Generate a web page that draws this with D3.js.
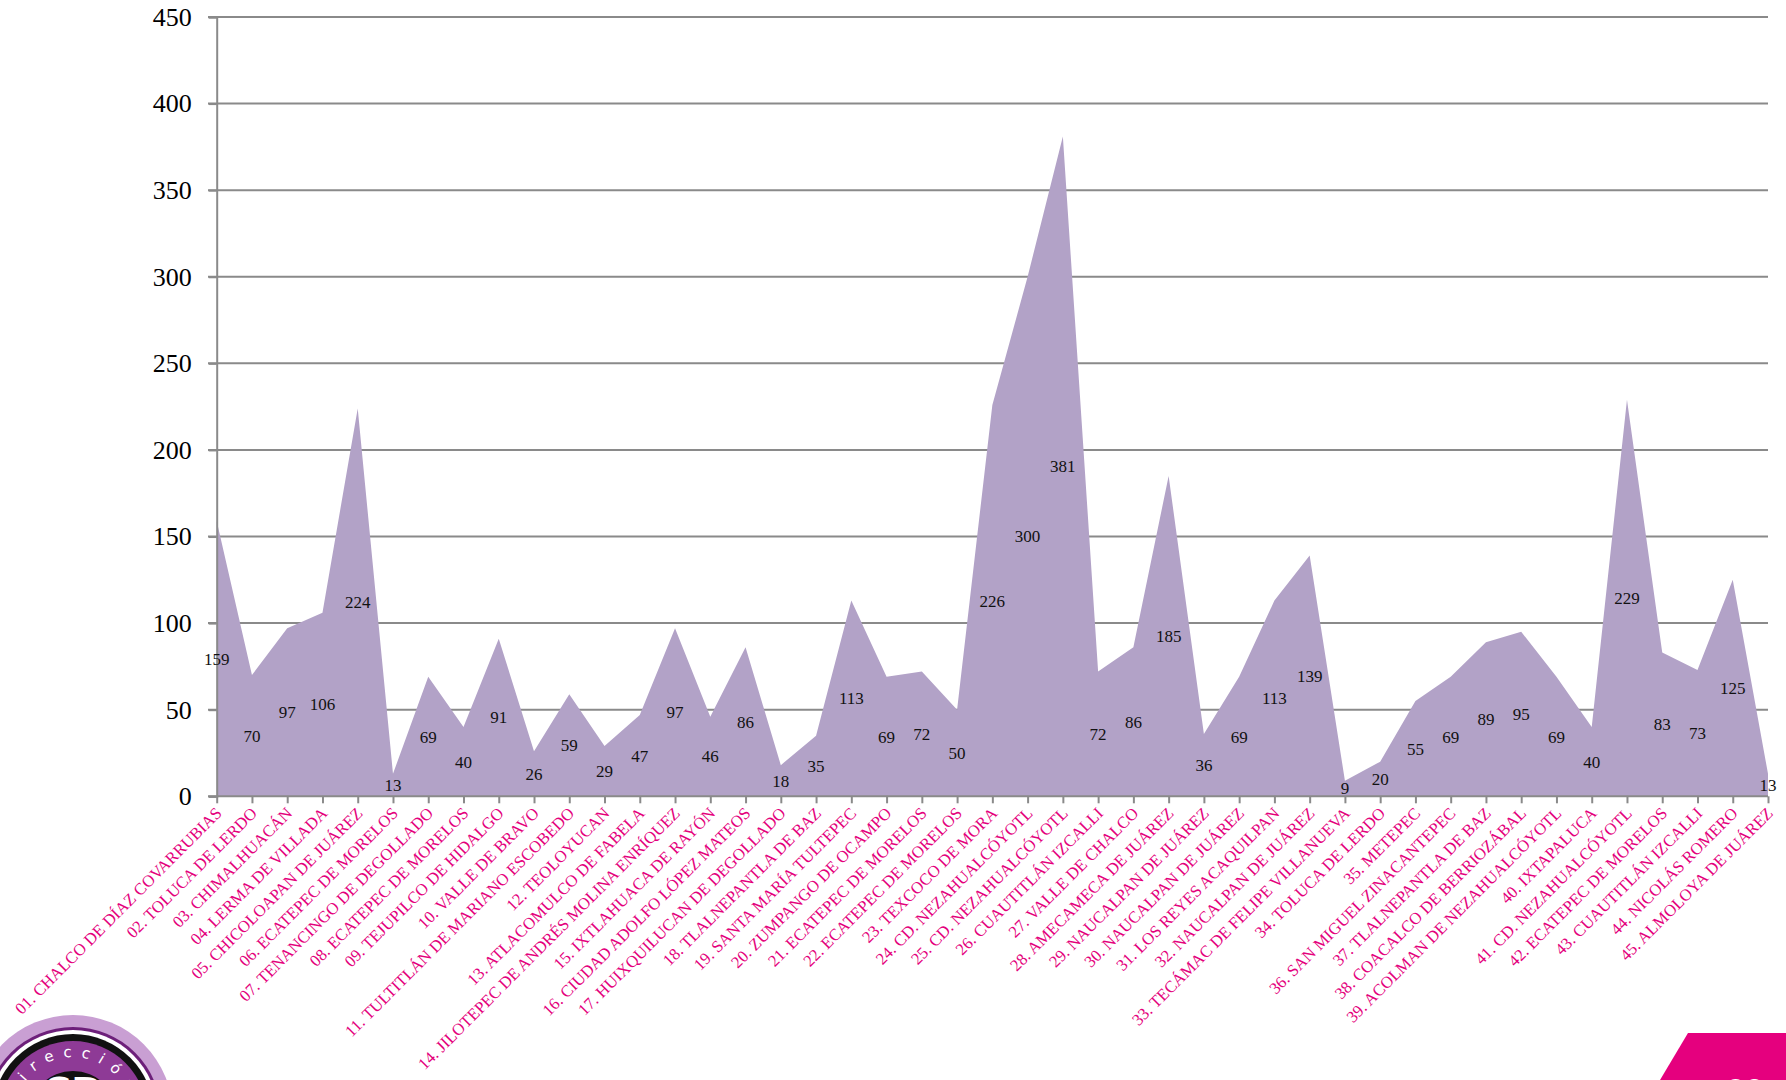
<!DOCTYPE html>
<html>
<head>
<meta charset="utf-8">
<script src="https://cdn.jsdelivr.net/npm/d3@7"></script>
<style>
  html, body { margin: 0; padding: 0; background: #ffffff; }
  svg { display: block; }
</style>
</head>
<body>
<svg id="chart" width="1786" height="1080"></svg>
<script>
const categories = [
  "01. CHALCO DE DÍAZ COVARRUBIAS",
  "02. TOLUCA DE LERDO",
  "03. CHIMALHUACÁN",
  "04. LERMA DE VILLADA",
  "05. CHICOLOAPAN DE JUÁREZ",
  "06. ECATEPEC DE MORELOS",
  "07. TENANCINGO DE DEGOLLADO",
  "08. ECATEPEC DE MORELOS",
  "09. TEJUPILCO DE HIDALGO",
  "10. VALLE DE BRAVO",
  "11. TULTITLÁN DE MARIANO ESCOBEDO",
  "12. TEOLOYUCAN",
  "13. ATLACOMULCO DE FABELA",
  "14. JILOTEPEC DE ANDRÉS MOLINA ENRÍQUEZ",
  "15. IXTLAHUACA DE RAYÓN",
  "16. CIUDAD ADOLFO LÓPEZ MATEOS",
  "17. HUIXQUILUCAN DE DEGOLLADO",
  "18. TLALNEPANTLA DE BAZ",
  "19. SANTA MARÍA TULTEPEC",
  "20. ZUMPANGO DE OCAMPO",
  "21. ECATEPEC DE MORELOS",
  "22. ECATEPEC DE MORELOS",
  "23. TEXCOCO DE MORA",
  "24. CD. NEZAHUALCÓYOTL",
  "25. CD. NEZAHUALCÓYOTL",
  "26. CUAUTITLÁN IZCALLI",
  "27. VALLE DE CHALCO",
  "28. AMECAMECA DE JUÁREZ",
  "29. NAUCALPAN DE JUÁREZ",
  "30. NAUCALPAN DE JUÁREZ",
  "31. LOS REYES ACAQUILPAN",
  "32. NAUCALPAN DE JUÁREZ",
  "33. TECÁMAC DE FELIPE VILLANUEVA",
  "34. TOLUCA DE LERDO",
  "35. METEPEC",
  "36. SAN MIGUEL ZINACANTEPEC",
  "37. TLALNEPANTLA DE BAZ",
  "38. COACALCO DE BERRIOZÁBAL",
  "39. ACOLMAN DE NEZAHUALCÓYOTL",
  "40. IXTAPALUCA",
  "41. CD. NEZAHUALCÓYOTL",
  "42. ECATEPEC DE MORELOS",
  "43. CUAUTITLÁN IZCALLI",
  "44. NICOLÁS ROMERO",
  "45. ALMOLOYA DE JUÁREZ"
];
const values = [159, 70, 97, 106, 224, 13, 69, 40, 91, 26, 59, 29, 47, 97, 46, 86, 18, 35, 113, 69,
                72, 50, 226, 300, 381, 72, 86, 185, 36, 69, 113, 139, 9, 20, 55, 69, 89, 95, 69, 40,
                229, 83, 73, 125, 13];
const yTicks = [0, 50, 100, 150, 200, 250, 300, 350, 400, 450];
const pageNumber = "20";
const logoText = "Dirección";

const svg = d3.select("#chart");
const serif = "'Liberation Serif', 'DejaVu Serif', serif";

const x = d3.scalePoint().domain(d3.range(categories.length)).range([216.7, 1768]);
const y = d3.scaleLinear().domain([0, 450]).range([796.3, 17]);

// gridlines
const grid = svg.append("g");
grid.selectAll("line").data(yTicks.filter(d => d > 0)).join("line")
  .attr("x1", 208).attr("x2", 1768)
  .attr("y1", d => y(d)).attr("y2", d => y(d))
  .attr("stroke", "#8a8a8a").attr("stroke-width", 2);

// area
const area = d3.area()
  .x((d, i) => x(i))
  .y0(y(0))
  .y1(d => y(d));
svg.append("path").datum(values)
  .attr("d", area)
  .attr("fill", "#b2a2c7");

// y axis
const yAxis = svg.append("g").attr("transform", "translate(216.7,0)")
  .call(d3.axisLeft(y).tickValues(yTicks).tickSize(8).tickPadding(17).tickFormat(d3.format("d")));
yAxis.attr("font-family", null).attr("font-size", null);
yAxis.select(".domain").attr("stroke", "#8a8a8a").attr("stroke-width", 2);
yAxis.selectAll(".tick line").attr("stroke", "#8a8a8a").attr("stroke-width", 2);
yAxis.selectAll(".tick text")
  .style("font-family", serif).style("font-size", "26px").attr("fill", "#000");

// x axis
const xAxis = svg.append("g").attr("transform", `translate(0,${y(0)})`)
  .call(d3.axisBottom(x).tickSize(7).tickFormat(""));
xAxis.select(".domain").attr("stroke", "#8a8a8a").attr("stroke-width", 2)
  .attr("d", `M208,0H1768`);
xAxis.selectAll(".tick line").attr("stroke", "#8a8a8a").attr("stroke-width", 2);

// category labels
svg.append("g").selectAll("text").data(categories).join("text")
  .attr("transform", (d, i) => `translate(${x(i) + 6},${y(0) + 18}) rotate(-45)`)
  .attr("text-anchor", "end")
  .style("font-family", serif)
  .style("font-size", "16.6px")
  .attr("fill", "#e4007c")
  .text(d => d);

// data labels
svg.append("g").selectAll("text").data(values).join("text")
  .attr("x", (d, i) => x(i))
  .attr("y", d => y(d / 2))
  .attr("dy", "0.35em")
  .attr("text-anchor", "middle")
  .style("font-family", serif)
  .style("font-size", "17px")
  .attr("fill", "#111")
  .text(d => d);

// logo (bottom-left)
const logo = svg.append("g").attr("transform", "translate(73,1115)");
logo.append("circle").attr("r", 100).attr("fill", "#c99fd3");
logo.append("circle").attr("r", 88).attr("fill", "#6d1f7a");
logo.append("circle").attr("r", 85).attr("fill", "#ffffff");
logo.append("circle").attr("r", 81).attr("fill", "#111");
logo.append("circle").attr("r", 74).attr("fill", "#8e3a96");
logo.append("circle").attr("r", 44).attr("fill", "#111");
logo.append("path").attr("id", "logoArc2")
  .attr("d", "M -58 0 A 58 58 0 0 1 58 0")
  .attr("fill", "none");
logo.append("text")
  .style("font-family", "'DejaVu Sans', sans-serif").style("font-size", "15px")
  .attr("fill", "#fff").attr("letter-spacing", 9)
  .append("textPath").attr("href", "#logoArc2").attr("startOffset", "8%")
  .text(logoText);
logo.append("text").attr("x", 0).attr("y", -8).attr("text-anchor", "middle")
  .style("font-family", "'DejaVu Sans', sans-serif").attr("font-weight", "bold")
  .style("font-size", "40px").attr("fill", "#fff").text("CD");

// page number shape (bottom-right)
svg.append("path")
  .attr("d", "M1688,1033 L1786,1033 L1786,1080 L1660,1080 Z")
  .attr("fill", "#e5007e");
svg.append("text").attr("x", 1745).attr("y", 1102).attr("text-anchor", "middle")
  .style("font-family", "'Liberation Sans', sans-serif").style("font-size", "34px")
  .attr("fill", "#fff").text(pageNumber);
</script>
</body>
</html>
